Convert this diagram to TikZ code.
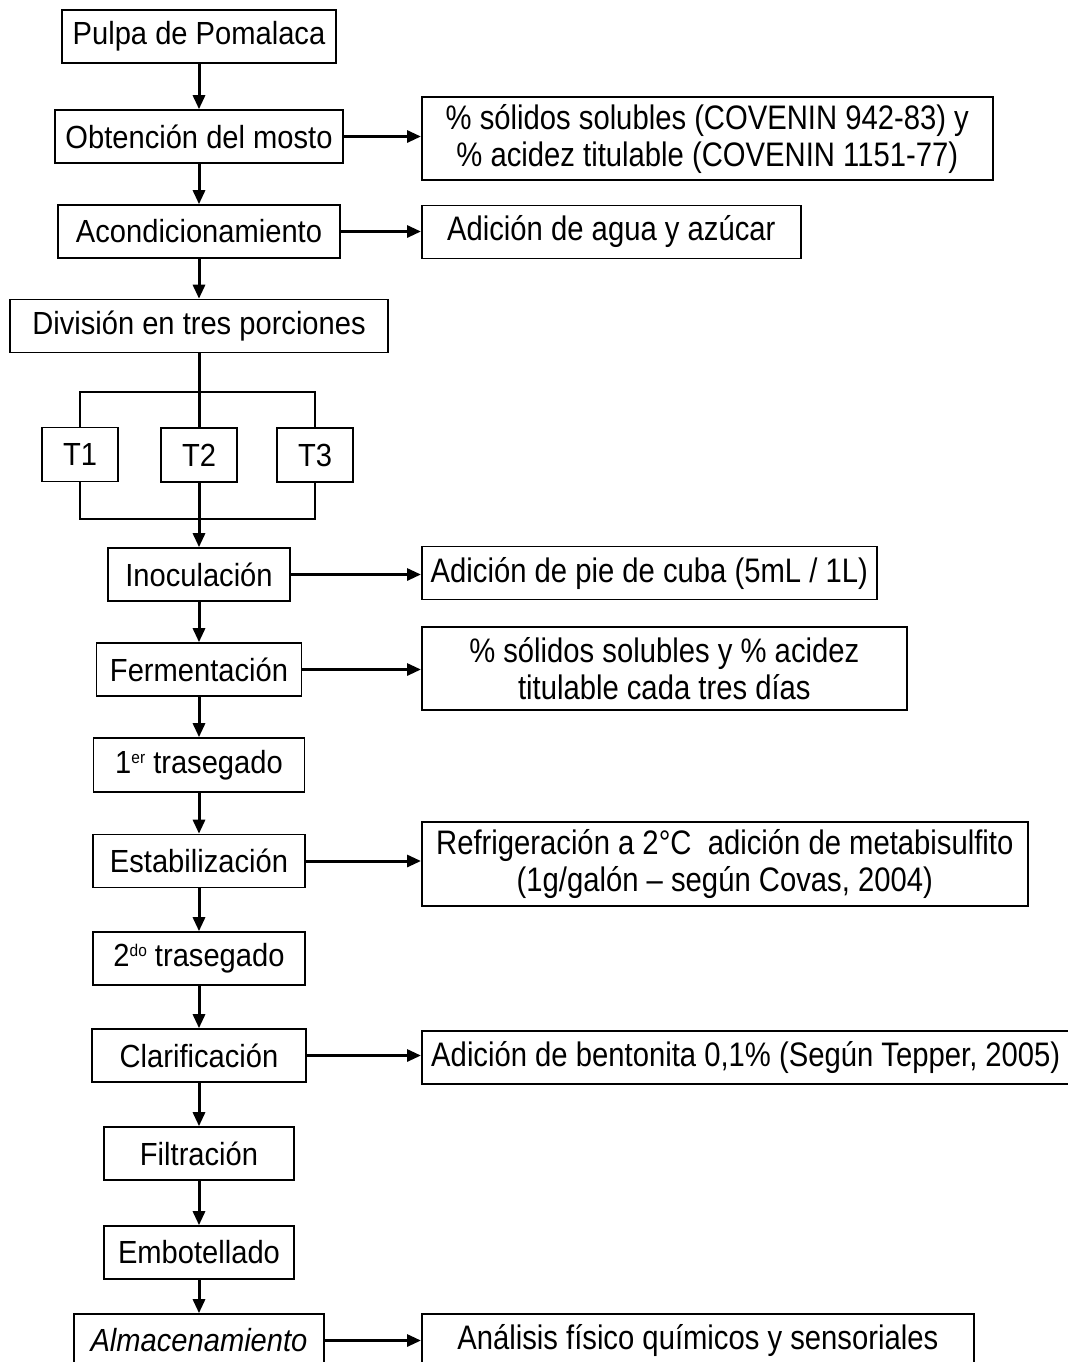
\documentclass[tikz,border=0pt]{standalone}
\usepackage{fontspec}
\setmainfont{Liberation Sans}
\newfontfamily\stepfont[FakeStretch=0.91]{Liberation Sans}
\newfontfamily\narrowfont[FakeStretch=0.86]{Liberation Sans}
\newcommand{\supr}[1]{\raisebox{5pt}{\fontsize{8.5}{8.5}\selectfont #1}}
\usetikzlibrary{arrows.meta,positioning}
\tikzset{
  stepbox/.style={draw,rectangle,line width=0.8pt,minimum height=26.5pt,inner sep=0pt,align=center,font=\stepfont\fontsize{16}{18}\selectfont},
  notebox/.style={draw,rectangle,line width=0.8pt,minimum height=26.5pt,inner sep=0pt,align=center,anchor=west,font=\narrowfont\fontsize{17}{18.5}\selectfont},
  tbox/.style={stepbox,minimum width=38pt,minimum height=27pt},
  arr/.style={-{Triangle[length=7pt,width=6pt]},line width=1.5pt},
  ln/.style={line width=0.8pt}
}

\begin{document}
\begin{tikzpicture}[x=0.5pt,y=-0.5pt]
  \useasboundingbox (0,0) rectangle (1068,1362);

  % main column
  \node[stepbox,minimum width=137pt] (pulpa) at (199,36.5) {Pulpa de Pomalaca};
  \node[stepbox,minimum width=144pt] (mosto) at (199,136.5) {Obtención del mosto};
  \node[stepbox,minimum width=141pt] (acond) at (199,231.5) {Acondicionamiento};
  \node[stepbox,minimum width=189pt] (division) at (199,326) {División en tres porciones};
  \node[tbox] (t1) at (80,454.5) {T1};
  \node[tbox] (t2) at (199,455) {T2};
  \node[tbox] (t3) at (315,455) {T3};
  \coordinate (forkup) at (199,392);
  \coordinate (forkdn) at (199,519);
  \node[stepbox,minimum width=91pt] (inocula) at (199,574.5) {Inoculación};
  \node[stepbox,minimum width=102.5pt] (ferment) at (199,669.5) {Fermentación};
  \node[stepbox,minimum width=105.5pt,minimum height=27pt] (trasega1) at (199,765) {1\supr{er} trasegado};
  \node[stepbox,minimum width=106pt] (estabil) at (199,861) {Estabilización};
  \node[stepbox,minimum width=106pt] (trasega2) at (199,958.5) {2\supr{do} trasegado};
  \node[stepbox,minimum width=107pt] (clarif) at (199,1055.5) {Clarificación};
  \node[stepbox,minimum width=95pt] (filtra) at (199,1153.5) {Filtración};
  \node[stepbox,minimum width=95pt] (embot) at (199,1252.5) {Embotellado};
  \node[stepbox,minimum width=125pt] (almacen) at (199,1340.5) {\itshape Almacenamiento};

  % side notes
  \node[notebox,minimum width=285.5pt,minimum height=41.5pt] (solidos) at (421,138.5) {\% sólidos solubles (COVENIN 942-83) y\\\% acidez titulable (COVENIN 1151-77)};
  \node[notebox,minimum width=189.5pt] (agua) at (421,232) {Adición de agua y azúcar};
  \node[notebox,minimum width=227.5pt] (piecuba) at (421,573) {Adición de pie de cuba (5mL / 1L)};
  \node[notebox,minimum width=242.5pt,minimum height=41.5pt] (control) at (421,668.5) {\% sólidos solubles y \% acidez\\titulable cada tres días};
  \node[notebox,minimum width=303pt,minimum height=42pt] (refrig) at (421,864) {Refrigeración a 2°C\ \ adición de metabisulfito\\(1g/galón – según Covas, 2004)};
  \node[notebox,minimum width=324pt] (bentonita) at (421,1057.5) {Adición de bentonita 0,1\% (Según Tepper, 2005)};
  \node[notebox,minimum width=276pt] (analisis) at (421,1340.5) {Análisis físico químicos y sensoriales};

  \draw[arr] (pulpa) -- (mosto);
  \draw[arr] (mosto) -- (acond);
  \draw[arr] (acond) -- (division);
  \draw[line width=1.5pt] (division) -- (t2);
  \draw[ln] (t1.north) |- (forkup) -| (t3.north);
  \draw[ln] (t1.south) |- (forkdn) -| (t3.south);
  \draw[arr] (t2) -- (inocula);
  \draw[arr] (inocula) -- (ferment);
  \draw[arr] (ferment) -- (trasega1);
  \draw[arr] (trasega1) -- (estabil);
  \draw[arr] (estabil) -- (trasega2);
  \draw[arr] (trasega2) -- (clarif);
  \draw[arr] (clarif) -- (filtra);
  \draw[arr] (filtra) -- (embot);
  \draw[arr] (embot) -- (almacen);

  \draw[arr] (mosto.east) -- (mosto.east -| solidos.west);
  \draw[arr] (acond.east) -- (acond.east -| agua.west);
  \draw[arr] (inocula.east) -- (inocula.east -| piecuba.west);
  \draw[arr] (ferment.east) -- (ferment.east -| control.west);
  \draw[arr] (estabil.east) -- (estabil.east -| refrig.west);
  \draw[arr] (clarif.east) -- (clarif.east -| bentonita.west);
  \draw[arr] (almacen.east) -- (almacen.east -| analisis.west);
\end{tikzpicture}
\end{document}
